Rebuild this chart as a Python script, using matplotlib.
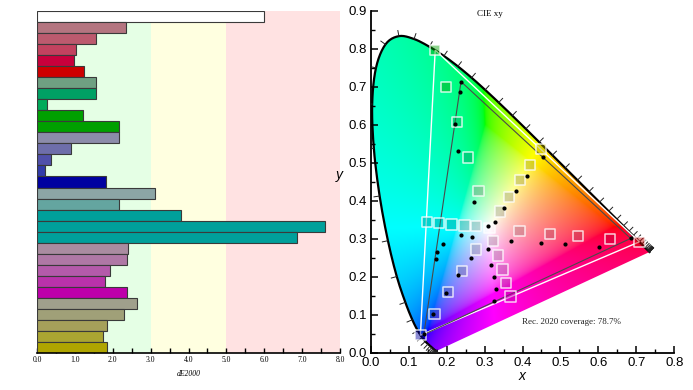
import numpy as np
import matplotlib
matplotlib.use("Agg")
import matplotlib.pyplot as plt
from matplotlib.patches import Polygon
from matplotlib.colors import to_rgba
from matplotlib.ticker import MultipleLocator, FormatStrFormatter

# ---- left panel: dE2000 per patch (top to bottom) ----
de = [6.0, 2.34, 1.56, 1.03, 0.98, 1.24,
      1.57, 1.57, 0.26, 1.21, 2.16,
      2.17, 0.91, 0.37, 0.21, 1.82,
      3.11, 2.16, 3.79, 7.60, 6.87,
      2.39, 2.37, 1.92, 1.79, 2.37,
      2.64, 2.30, 1.85, 1.74, 1.85]
patch_colors = ['#ffffff', '#b47580', '#bc5a6e', '#c2425f', '#c8003c', '#cd0000',
                '#6fa082', '#00a064', '#00aa5a', '#00a000', '#00a000',
                '#8c8caa', '#6e6eaa', '#5050aa', '#323caa', '#0000a0',
                '#8ca5a5', '#64a5a0', '#00a09b', '#00a09b', '#00a09b',
                '#aa8ca0', '#af78a5', '#b45aaa', '#b932aa', '#be00aa',
                '#a0a08c', '#a0a078', '#a5a05a', '#aaa532', '#afa500']
bands = [(0, 3, '#e5ffe5'), (3, 5, '#ffffe0'), (5, 8, '#ffe2e2')]

# ---- right panel: targets (squares) and measured (dots) ----
target_x = [0.3127, 0.392, 0.473, 0.546, 0.631, 0.708,
            0.284, 0.256, 0.228, 0.198, 0.170,
            0.277, 0.241, 0.203, 0.168, 0.131,
            0.277, 0.247, 0.213, 0.180, 0.148,
            0.323, 0.335, 0.347, 0.357, 0.368,
            0.341, 0.365, 0.393, 0.420, 0.448]
target_y = [0.329, 0.321, 0.313, 0.307, 0.299, 0.292,
            0.426, 0.514, 0.607, 0.700, 0.797,
            0.272, 0.215, 0.160, 0.102, 0.046,
            0.333, 0.335, 0.338, 0.342, 0.344,
            0.295, 0.256, 0.219, 0.184, 0.148,
            0.372, 0.411, 0.455, 0.495, 0.536]
meas_x = [0.308, 0.369, 0.448, 0.513, 0.601, 0.685,
          0.273, 0.230, 0.222, 0.2345, 0.238,
          0.265, 0.230, 0.199, 0.165, 0.140,
          0.268, 0.238, 0.190, 0.175, 0.172,
          0.308, 0.318, 0.325, 0.331, 0.324,
          0.327, 0.352, 0.384, 0.413, 0.455]
meas_y = [0.333, 0.294, 0.289, 0.286, 0.278, 0.301,
          0.396, 0.532, 0.602, 0.686, 0.714,
          0.250, 0.205, 0.156, 0.102, 0.048,
          0.305, 0.310, 0.287, 0.265, 0.247,
          0.272, 0.232, 0.199, 0.167, 0.137,
          0.345, 0.380, 0.426, 0.465, 0.516]
rec2020 = [(0.708, 0.292), (0.170, 0.797), (0.131, 0.046)]
measured_gamut = [(0.685, 0.301), (0.238, 0.714), (0.140, 0.048)]

# CIE 1931 2deg spectral locus, 380-700 nm in 5 nm steps
locus = np.array([
    (0.1741, 0.0050), (0.1740, 0.0050), (0.1738, 0.0049), (0.1736, 0.0049),
    (0.1733, 0.0048), (0.1730, 0.0048), (0.1726, 0.0048), (0.1721, 0.0048),
    (0.1714, 0.0051), (0.1703, 0.0058), (0.1689, 0.0069), (0.1669, 0.0086),
    (0.1644, 0.0109), (0.1611, 0.0138), (0.1566, 0.0177), (0.1510, 0.0227),
    (0.1440, 0.0297), (0.1355, 0.0399), (0.1241, 0.0578), (0.1096, 0.0868),
    (0.0913, 0.1327), (0.0687, 0.2007), (0.0454, 0.2950), (0.0235, 0.4127),
    (0.0082, 0.5384), (0.0039, 0.6548), (0.0139, 0.7502), (0.0389, 0.8120),
    (0.0743, 0.8338), (0.1142, 0.8262), (0.1547, 0.8059), (0.1929, 0.7816),
    (0.2296, 0.7543), (0.2658, 0.7243), (0.3016, 0.6923), (0.3373, 0.6589),
    (0.3731, 0.6245), (0.4087, 0.5896), (0.4441, 0.5547), (0.4788, 0.5202),
    (0.5125, 0.4866), (0.5448, 0.4544), (0.5752, 0.4242), (0.6029, 0.3965),
    (0.6270, 0.3725), (0.6482, 0.3514), (0.6658, 0.3340), (0.6801, 0.3197),
    (0.6915, 0.3083), (0.7006, 0.2993), (0.7079, 0.2920), (0.7140, 0.2859),
    (0.7190, 0.2809), (0.7230, 0.2770), (0.7260, 0.2740), (0.7283, 0.2717),
    (0.7300, 0.2700), (0.7311, 0.2689), (0.7320, 0.2680), (0.7327, 0.2673),
    (0.7334, 0.2666), (0.7340, 0.2660), (0.7344, 0.2656), (0.7346, 0.2654),
    (0.7347, 0.2653)])

serif = 'Liberation Serif'
sans = 'Liberation Sans'


def smooth_outline(pts, k=6):
    # Catmull-Rom through the tabulated locus so the outline is not jagged
    p = np.vstack([pts[0], pts, pts[-1]])
    out = []
    for i in range(1, len(p) - 2):
        p0, p1, p2, p3 = p[i - 1], p[i], p[i + 1], p[i + 2]
        for t in np.linspace(0, 1, k, endpoint=False):
            t2, t3 = t * t, t * t * t
            out.append(0.5 * (2 * p1 + (-p0 + p2) * t + (2 * p0 - 5 * p1 + 4 * p2 - p3) * t2
                              + (-p0 + 3 * p1 - 3 * p2 + p3) * t3))
    out.append(pts[-1])
    return np.array(out)


fig = plt.figure(figsize=(6.93, 3.9), dpi=100)

# ---------------- left: bars ----------------
ax1 = fig.add_axes([37 / 693, 37 / 390, 303 / 693, 342 / 390])
for a, b, c in bands:
    ax1.axvspan(a, b, color=c, lw=0, zorder=0)
pos = np.arange(len(de))
ax1.barh(pos, de, height=1.0, color=patch_colors, edgecolor='#3a3a3a', lw=0.8, zorder=2)
ax1.set_xlim(0, 8)
ax1.set_ylim(len(de) - 0.5, -0.5)
ax1.set_yticks([])
for s in ['top', 'right', 'left']:
    ax1.spines[s].set_visible(False)
ax1.spines['bottom'].set_linewidth(1.2)
ax1.xaxis.set_major_locator(MultipleLocator(1.0))
ax1.xaxis.set_minor_locator(MultipleLocator(0.5))
ax1.xaxis.set_major_formatter(FormatStrFormatter('%.1f'))
ax1.tick_params(axis='x', which='both', direction='in', length=3.5, width=1, pad=2.5)
for t in ax1.get_xticklabels():
    t.set_fontfamily(serif)
    t.set_fontsize(5.5)
ax1.set_xlabel('dE2000', fontfamily=serif, fontstyle='italic', fontsize=5.5, labelpad=4)

# ---------------- right: CIE xy ----------------
ax2 = fig.add_axes([370.7 / 693, 37.3 / 390, 303.6 / 693, 341.7 / 390])
ax2.set_xlim(0, 0.8)
ax2.set_ylim(0, 0.9)

outline = smooth_outline(locus)

# chromaticity fill
gx = np.linspace(0, 0.8, 480)
gy = np.linspace(0.001, 0.9, 540)
X, Y = np.meshgrid(gx, gy)
XYZ = np.dstack([X / Y, np.ones_like(X), (1 - X - Y) / Y])
M = np.array([[3.2406, -1.5372, -0.4986],
              [-0.9689, 1.8758, 0.0415],
              [0.0557, -0.2040, 1.0570]])
rgb = XYZ @ M.T
rgb = rgb - np.minimum(rgb.min(axis=2, keepdims=True), 0)
rgb = rgb / rgb.max(axis=2, keepdims=True)
rgb = np.clip(rgb, 0, 1)
rgb = np.where(rgb <= 0.0031308, 12.92 * rgb, 1.055 * rgb ** (1 / 2.4) - 0.055)
clip = Polygon(outline, closed=True, transform=ax2.transData, facecolor='none', edgecolor='none')
ax2.add_patch(clip)
im = ax2.imshow(rgb, extent=(0, 0.8, 0.001, 0.9), origin='lower',
                interpolation='bilinear', aspect='auto', zorder=1)
im.set_clip_path(clip)

# locus outline and wavelength ticks
ax2.plot(outline[:, 0], outline[:, 1], color='black', lw=1.6, zorder=3,
         solid_joinstyle='round')
wp = np.array([0.3127, 0.329])
for i in range(len(locus)):
    a = locus[max(i - 1, 0)]
    b = locus[min(i + 1, len(locus) - 1)]
    t = b - a
    n = np.array([-t[1], t[0]])
    n = n / np.hypot(*n)
    if np.dot(n, locus[i] - wp) < 0:
        n = -n
    p0 = locus[i]
    p1 = p0 + n * 0.015
    ax2.plot([p0[0], p1[0]], [p0[1], p1[1]], color='#222222', lw=0.7, zorder=3)

# gamut triangles
ax2.add_patch(Polygon(rec2020, closed=True, fill=False, edgecolor='white', lw=1.0, zorder=4))
ax2.add_patch(Polygon(measured_gamut, closed=True, fill=False, edgecolor='#4a4a4a', lw=0.8, zorder=4))

# target squares and measured points
faces = [to_rgba(c, 0.45) for c in patch_colors]
ax2.scatter(target_x, target_y, marker='s', s=55, facecolors=faces,
            edgecolors=(1, 1, 1, 0.8), linewidths=1.1, zorder=5)
ax2.scatter(meas_x, meas_y, s=9, color='black', zorder=6, lw=0)

ax2.text(0.314, 0.893, 'CIE xy', fontfamily=serif, fontsize=6.5, ha='center', va='center')
ax2.text(0.53, 0.081, 'Rec. 2020 coverage: 78.7%', fontfamily=serif, fontsize=6.5,
         ha='center', va='center', color='#222222')

for s in ['top', 'right']:
    ax2.spines[s].set_visible(False)
for s in ['left', 'bottom']:
    ax2.spines[s].set_linewidth(1.3)
ax2.xaxis.set_major_locator(MultipleLocator(0.1))
ax2.xaxis.set_minor_locator(MultipleLocator(0.05))
ax2.yaxis.set_major_locator(MultipleLocator(0.1))
ax2.yaxis.set_minor_locator(MultipleLocator(0.05))
ax2.xaxis.set_major_formatter(FormatStrFormatter('%.1f'))
ax2.yaxis.set_major_formatter(FormatStrFormatter('%.1f'))
ax2.tick_params(which='major', direction='in', length=5, width=1.1, labelsize=9.5, pad=3)
ax2.tick_params(which='minor', direction='in', length=3, width=1.0)
for t in ax2.get_xticklabels() + ax2.get_yticklabels():
    t.set_fontfamily(sans)
ax2.set_xlabel('x', fontfamily=sans, fontstyle='italic', fontsize=10, labelpad=0)
ax2.set_ylabel('y', fontfamily=sans, fontstyle='italic', fontsize=10, rotation=0, labelpad=6)

fig.savefig('out.png', dpi=100)
